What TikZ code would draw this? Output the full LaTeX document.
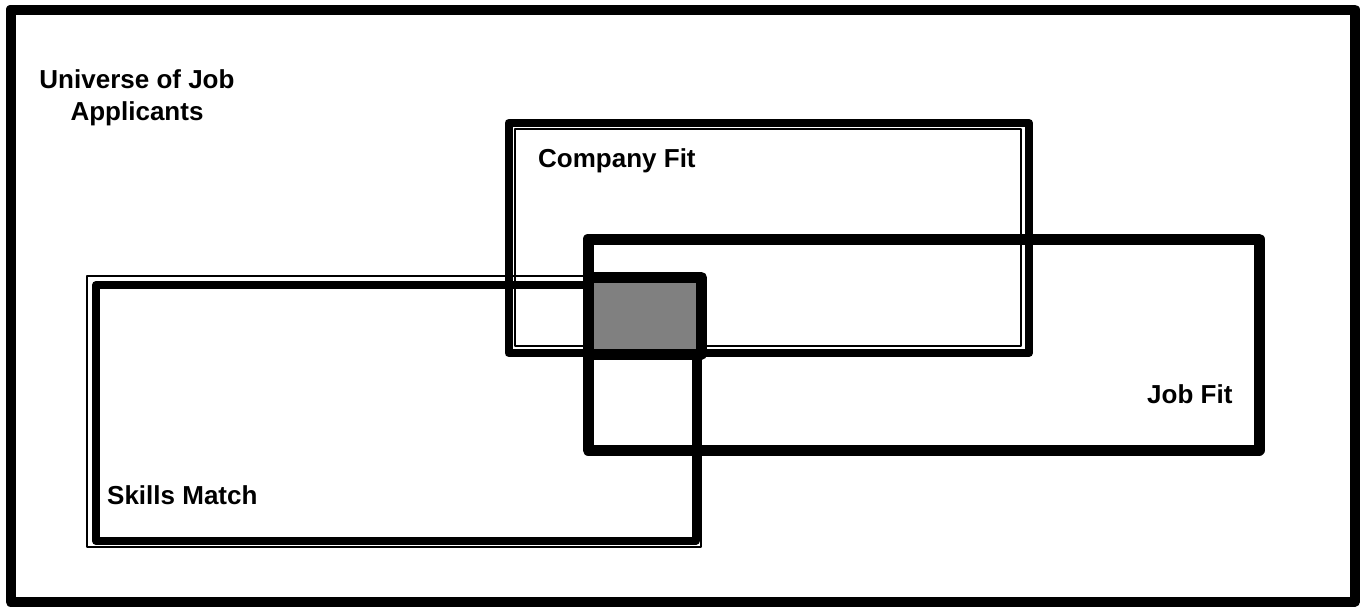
\documentclass[tikz,border=0pt]{standalone}
\usepackage{fontspec}
\setmainfont{Liberation Sans}
\begin{document}
\begin{tikzpicture}[x=1pt,y=-1pt,line join=round,
  thickbox/.style={draw=black,line width=8pt},
  thinbox/.style={draw=black,line width=1.5pt},
  lbl/.style={font=\fontsize{26}{32}\selectfont\bfseries,inner sep=0pt,anchor=base west},
]
\useasboundingbox (0,0) rectangle (1364,606);
% outer universe border
\draw[line width=10pt] (10.5,9.5) rectangle (1355,601.5);
% skills match (thin outside, thick inside)
\draw[thinbox] (87,276) rectangle (701,547);
\draw[thickbox] (96,285) rectangle (695.5,541);
% company fit (thick outside, thin inside)
\draw[thickbox] (508.5,123) rectangle (1029,353);
\draw[thinbox] (515,129) rectangle (1021,346);
% job fit
\draw[line width=11pt] (588,239) rectangle (1259,450);
% intersection
\draw[line width=11pt,fill={rgb,255:red,128;green,128;blue,128}] (588,277.5) rectangle (701.5,354);
% labels
\node[font=\fontsize{26}{32}\selectfont\bfseries,align=center,inner sep=0pt,anchor=base] (uni) at (137,120) {Universe of Job\\Applicants};
\node[lbl] (cf) at (538,167) {Company Fit};
\node[lbl] (jf) at (1147,403) {Job Fit};
\node[lbl] (sm) at (107,504) {Skills Match};
\end{tikzpicture}
\end{document}
